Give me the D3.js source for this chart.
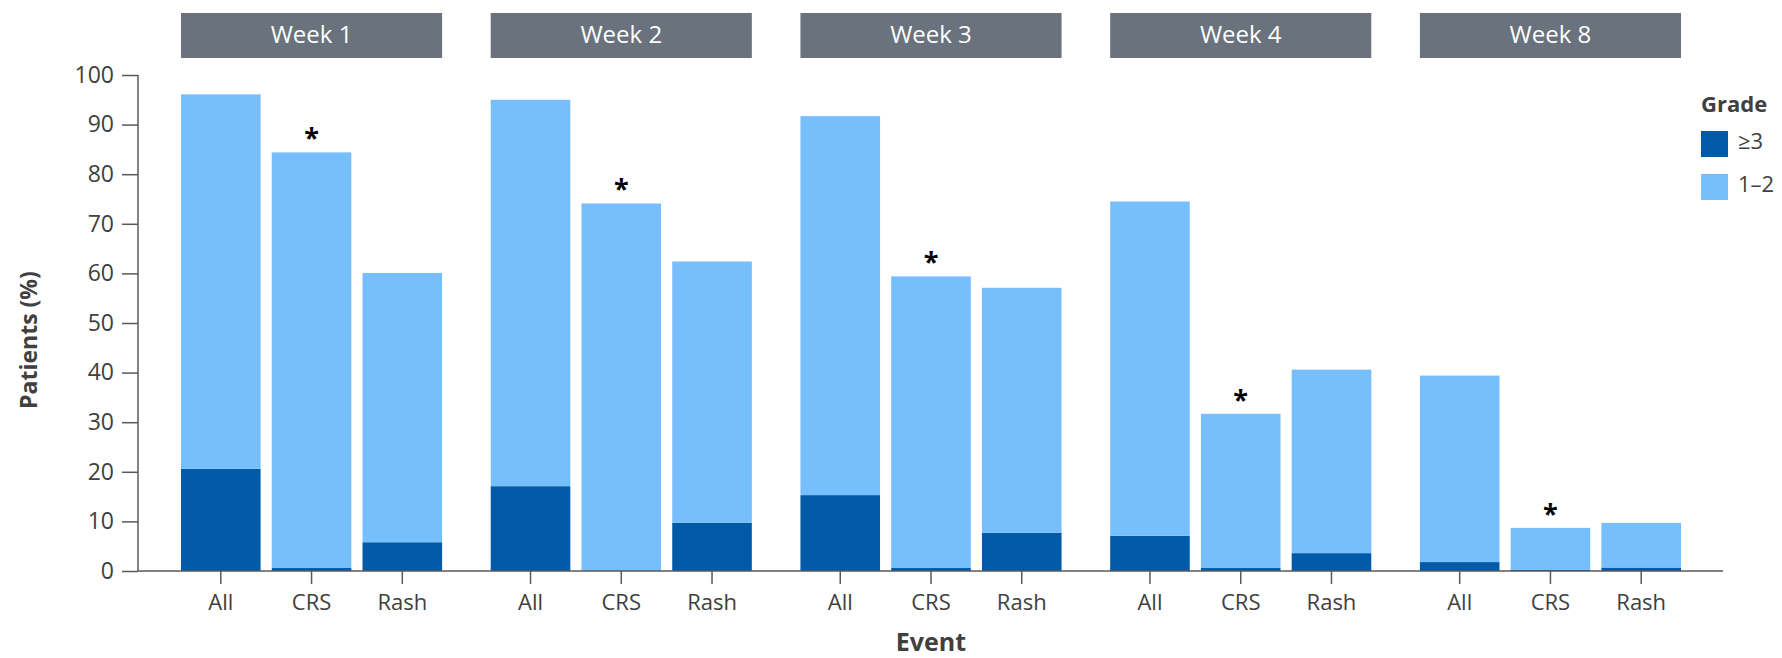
<!DOCTYPE html>
<html>
<head>
<meta charset="utf-8">
<script src="https://cdn.jsdelivr.net/npm/d3@7"></script>
<style>
  html, body { margin: 0; padding: 0; background: #fff; }
  svg { display: block; font-family: "Open Sans", "DejaVu Sans", sans-serif; }
</style>
</head>
<body>
<svg id="chart" width="1782" height="658"></svg>
<script>
// Time points (panels) and event types within each panel
const weeks = ["Week 1", "Week 2", "Week 3", "Week 4", "Week 8"];
const events = ["All", "CRS", "Rash"];

// Patients (%) with grade ≥3 events, per week, in event order
const grade3 = [
  [20.6, 0.6, 5.8],
  [17.1, 0.0, 9.7],
  [15.3, 0.6, 7.7],
  [7.1, 0.6, 3.6],
  [1.8, 0.2, 0.7]
];

// Patients (%) with grade 1–2 events, per week, in event order
const grade12 = [
  [75.5, 83.8, 54.3],
  [77.9, 74.1, 52.7],
  [76.4, 58.8, 49.4],
  [67.4, 31.1, 37.0],
  [37.6, 8.5, 9.0]
];

// Events carrying a footnote marker
const flaggedEvents = ["CRS"];

const yTicks = [0, 10, 20, 30, 40, 50, 60, 70, 80, 90, 100];
const gradeKeys = ["g3", "g12"];
const gradeLabels = ["≥3", "1–2"];
const gradeColors = ["#005aa8", "#77bffc"];

const textColor = "#404040";
const svg = d3.select("#chart");

// Scales
const y = d3.scaleLinear().domain([0, 100]).range([571, 75]);
const xWeek = d3.scaleBand().domain(weeks).range([181, 1681]).paddingInner(0.157).paddingOuter(0);
const xEvent = d3.scaleBand().domain(events).range([0, xWeek.bandwidth()]).paddingInner(0.123).paddingOuter(0);
const color = d3.scaleOrdinal().domain(gradeKeys).range(gradeColors);

// Flatten into one row per bar
const rows = [];
weeks.forEach((w, i) => {
  events.forEach((e, j) => {
    rows.push({ week: w, event: e, g3: grade3[i][j], g12: grade12[i][j] });
  });
});

const stacked = d3.stack().keys(gradeKeys)(rows);

// Week header banners
const headers = svg.append("g");
headers.selectAll("rect")
  .data(weeks)
  .join("rect")
  .attr("x", d => xWeek(d))
  .attr("y", 13)
  .attr("width", xWeek.bandwidth())
  .attr("height", 45)
  .attr("fill", "#6a737d");
headers.selectAll("text")
  .data(weeks)
  .join("text")
  .attr("x", d => xWeek(d) + xWeek.bandwidth() / 2)
  .attr("y", 35)
  .attr("dy", "0.35em")
  .attr("text-anchor", "middle")
  .attr("fill", "#ffffff")
  .attr("font-size", 24)
  .text(d => d);

// Stacked bars
svg.append("g")
  .selectAll("g")
  .data(stacked)
  .join("g")
  .attr("fill", d => color(d.key))
  .selectAll("rect")
  .data(d => d)
  .join("rect")
  .attr("x", d => xWeek(d.data.week) + xEvent(d.data.event))
  .attr("y", d => y(d[1]))
  .attr("width", xEvent.bandwidth())
  .attr("height", d => y(d[0]) - y(d[1]));

// Footnote asterisks above flagged bars
svg.append("g")
  .selectAll("text")
  .data(rows.filter(r => flaggedEvents.includes(r.event)))
  .join("text")
  .attr("x", d => xWeek(d.week) + xEvent(d.event) + xEvent.bandwidth() / 2)
  .attr("y", d => y(d.g3 + d.g12) - 5)
  .attr("text-anchor", "middle")
  .attr("font-size", 27)
  .attr("font-weight", "bold")
  .attr("fill", "#000")
  .text("*");

// Y axis
const yAxis = svg.append("g")
  .attr("transform", "translate(138,0)")
  .call(d3.axisLeft(y).tickValues(yTicks).tickSize(16).tickPadding(8).tickSizeOuter(0));
yAxis.select(".domain").attr("stroke", "#595959").attr("stroke-width", 1.5)
  .attr("d", `M0,${y(100)}V${y(0)}`);
yAxis.selectAll(".tick line").attr("stroke", "#595959").attr("stroke-width", 1.5);
yAxis.selectAll(".tick text")
  .attr("fill", textColor)
  .attr("font-size", 23)
  .attr("font-family", "Open Sans, sans-serif");

// X axis baseline
svg.append("line")
  .attr("x1", 138).attr("x2", 1723)
  .attr("y1", y(0)).attr("y2", y(0))
  .attr("stroke", "#595959")
  .attr("stroke-width", 1.5);

// Event tick marks and labels
const ticks = svg.append("g");
ticks.selectAll("line")
  .data(rows)
  .join("line")
  .attr("x1", d => xWeek(d.week) + xEvent(d.event) + xEvent.bandwidth() / 2)
  .attr("x2", d => xWeek(d.week) + xEvent(d.event) + xEvent.bandwidth() / 2)
  .attr("y1", y(0))
  .attr("y2", y(0) + 13)
  .attr("stroke", "#595959")
  .attr("stroke-width", 1.5);
ticks.selectAll("text")
  .data(rows)
  .join("text")
  .attr("x", d => xWeek(d.week) + xEvent(d.event) + xEvent.bandwidth() / 2)
  .attr("y", 610)
  .attr("text-anchor", "middle")
  .attr("fill", textColor)
  .attr("font-size", 22)
  .text(d => d.event);

// Axis titles
svg.append("text")
  .attr("x", 931)
  .attr("y", 651)
  .attr("text-anchor", "middle")
  .attr("fill", textColor)
  .attr("font-size", 25)
  .attr("font-weight", "bold")
  .text("Event");

svg.append("text")
  .attr("transform", "translate(37,340) rotate(-90)")
  .attr("text-anchor", "middle")
  .attr("fill", textColor)
  .attr("font-size", 23)
  .attr("font-weight", "bold")
  .text("Patients (%)");

// Legend
const legend = svg.append("g").attr("transform", "translate(1701,0)");
legend.append("text")
  .attr("x", 0)
  .attr("y", 112)
  .attr("fill", textColor)
  .attr("font-size", 22)
  .attr("font-weight", "bold")
  .text("Grade");
const items = legend.selectAll("g.item")
  .data(gradeKeys)
  .join("g")
  .attr("class", "item")
  .attr("transform", (d, i) => `translate(0,${131 + i * 43})`);
items.append("rect")
  .attr("width", 27)
  .attr("height", 26)
  .attr("fill", d => color(d));
items.append("text")
  .attr("x", 37)
  .attr("y", 10)
  .attr("dy", "0.35em")
  .attr("fill", textColor)
  .attr("font-size", 22)
  .text((d, i) => gradeLabels[i]);
</script>
</body>
</html>
